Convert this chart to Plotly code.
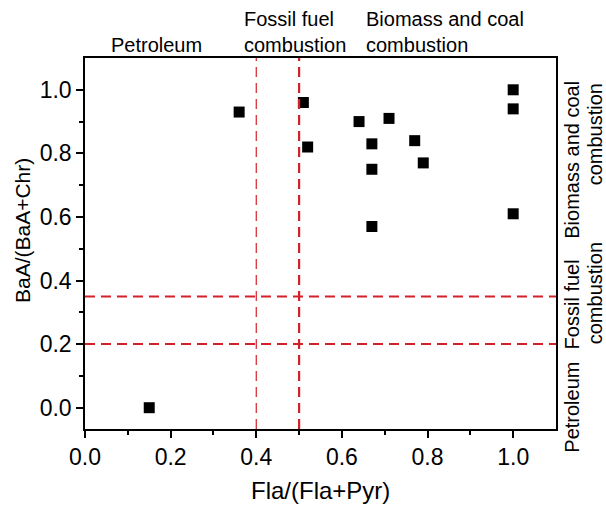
import plotly.graph_objects as go

# Data
fla_ratio = [0.15, 0.36, 0.51, 0.52, 0.64, 0.67, 0.67, 0.67, 0.71, 0.77, 0.79, 1.00, 1.00, 1.00]
baa_ratio = [0.00, 0.93, 0.96, 0.82, 0.90, 0.83, 0.75, 0.57, 0.91, 0.84, 0.77, 1.00, 0.94, 0.61]

x_thresholds = [0.4, 0.5]
y_thresholds = [0.35, 0.2]

x_tick_vals = [0.0, 0.2, 0.4, 0.6, 0.8, 1.0]
x_tick_text = ["0.0", "0.2", "0.4", "0.6", "0.8", "1.0"]
y_tick_vals = [0.0, 0.2, 0.4, 0.6, 0.8, 1.0]
y_tick_text = ["0.0", "0.2", "0.4", "0.6", "0.8", "1.0"]
minor_vals = [0.1, 0.3, 0.5, 0.7, 0.9]

x_title = "Fla/(Fla+Pyr)"
y_title = "BaA/(BaA+Chr)"

top_labels = [("Petroleum", 0.168, "center"),
              ("Fossil fuel<br>combustion", 0.367, "left"),
              ("Biomass and coal<br>combustion", 0.651, "left")]

# right side rotated labels (text, y value, column)
right_labels = [("Petroleum", 0.0, 0), ("Fossil fuel", 0.325, 0), ("combustion", 0.36, 1),
                ("Biomass and coal", 0.78, 0), ("combustion", 0.86, 1)]

FONT = "Liberation Sans, Arial, sans-serif"
RED = "#d42028"
DASH = "10px,6px"

fig = go.Figure()
fig.add_trace(go.Scatter(
    x=fla_ratio, y=baa_ratio, mode="markers",
    marker=dict(symbol="square", size=11, color="black", line=dict(width=0)),
    showlegend=False, cliponaxis=False, hoverinfo="skip"))

# threshold lines
fig.add_shape(type="line", xref="x", yref="paper", x0=x_thresholds[0], x1=x_thresholds[0], y0=0, y1=1,
              line=dict(color=RED, width=1.2, dash=DASH))
fig.add_shape(type="line", xref="x", yref="paper", x0=x_thresholds[1], x1=x_thresholds[1], y0=0, y1=1,
              line=dict(color=RED, width=2.2, dash=DASH))
for yt in y_thresholds:
    fig.add_shape(type="line", xref="paper", yref="y", x0=0, x1=1, y0=yt, y1=yt,
                  line=dict(color=RED, width=2, dash=DASH))

annotations = []
for text, xv, al in top_labels:
    annotations.append(dict(text=text, xref="x", yref="paper", x=xv, y=1, yanchor="bottom",
                            xanchor=al, align="left", showarrow=False,
                            font=dict(family=FONT, size=20, color="black")))

for text, yv, col in right_labels:
    annotations.append(dict(text=text, xref="paper", yref="y", x=1, y=yv, xanchor="left",
                            yanchor="middle", showarrow=False, textangle=-90,
                            xshift=3 + 23 * col,
                            font=dict(family=FONT, size=20, color="black")))

# axis titles
annotations.append(dict(text=x_title, xref="paper", yref="paper", x=0.5, y=-0.166,
                        xanchor="center", yanchor="middle", showarrow=False,
                        font=dict(family=FONT, size=24, color="black")))
annotations.append(dict(text=y_title, xref="paper", yref="paper", x=-0.134, y=0.536,
                        xanchor="center", yanchor="middle", showarrow=False, textangle=-90,
                        font=dict(family=FONT, size=21, color="black")))

axis_common = dict(showgrid=False, zeroline=False, showline=True, linecolor="black", linewidth=1.5,
                   mirror=True, ticks="outside", ticklen=7, tickwidth=1.5, tickcolor="black",
                   minor=dict(tickvals=minor_vals, ticks="outside", ticklen=4,
                              tickwidth=1.5, tickcolor="black"),
                   tickfont=dict(family=FONT, size=23, color="black"), automargin=False)

fig.update_layout(
    width=606, height=508,
    margin=dict(l=85, r=50, t=58, b=79),
    paper_bgcolor="white", plot_bgcolor="white",
    font=dict(family=FONT, size=21, color="black"),
    annotations=annotations,
    hovermode=False,
    xaxis=dict(range=[0, 1.1], tickvals=x_tick_vals, ticktext=x_tick_text, **axis_common),
    yaxis=dict(range=[-0.067, 1.1], tickvals=y_tick_vals, ticktext=y_tick_text, **axis_common),
)

fig.write_html("out.html", config={"displayModeBar": False},
               post_script="document.body.style.margin='0';")
